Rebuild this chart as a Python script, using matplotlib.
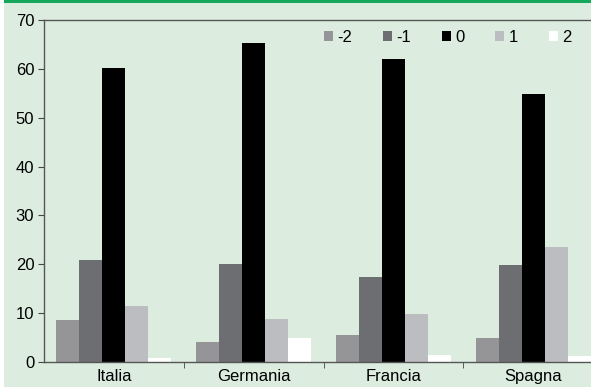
import matplotlib
matplotlib.use("Agg")
import matplotlib.pyplot as plt
from matplotlib.patches import Rectangle
import numpy as np

countries = ["Italia", "Germania", "Francia", "Spagna"]
series_labels = ["-2", "-1", "0", "1", "2"]
v_m2 = [8.6, 4.1, 5.5, 5.0]
v_m1 = [20.9, 20.0, 17.4, 19.9]
v_0 = [60.1, 65.2, 62.1, 54.9]
v_p1 = [11.5, 8.8, 9.9, 23.6]
v_p2 = [0.8, 4.9, 1.5, 1.2]
yticks = [0, 10, 20, 30, 40, 50, 60, 70]

series = [v_m2, v_m1, v_0, v_p1, v_p2]
colors = ["#959598", "#6d6e71", "#000000", "#bcbdc0", "#ffffff"]

plt.rcParams["font.family"] = ["Liberation Sans", "DejaVu Sans"]

bg = "#dcede0"
W, H = 591, 387
fig = plt.figure(figsize=(W / 100, H / 100), dpi=100, facecolor=bg)

# white strip on the far left and green rule across the top
fig.patches.append(Rectangle((0, 0), 4 / W, 1, transform=fig.transFigure,
                             facecolor="white", edgecolor="none", zorder=0))
fig.patches.append(Rectangle((4 / W, 1 - 3 / H), 1, 3 / H, transform=fig.transFigure,
                             facecolor="#16a85a", edgecolor="none", zorder=1))

left, right, top, bottom = 44, 603, 20, 362
ax = fig.add_axes([left / W, (H - bottom) / H, (right - left) / W, (bottom - top) / H])
ax.set_facecolor(bg)

x = np.arange(len(countries))
w = 23 / 140
for k, (vals, c, lab) in enumerate(zip(series, colors, series_labels)):
    ax.bar(x + (k - 2) * w, vals, width=w, color=c, edgecolor="none", label=lab, zorder=2)

ax.set_xlim(-0.5, len(countries) - 0.5)
ax.set_ylim(0, 70)
ax.set_yticks(yticks)
ax.set_yticklabels([str(t) for t in yticks])
ax.set_xticks(x)
ax.set_xticklabels(countries)
ax.set_xticks(np.arange(0.5, len(countries) - 0.5, 1), minor=True)
ax.tick_params(axis="x", which="major", length=0, pad=5, labelsize=12)
ax.tick_params(axis="x", which="minor", length=4, direction="out", color="#444444")
ax.tick_params(axis="y", length=4, direction="out", color="#444444", labelsize=12, pad=3)

for s in ["left", "top", "bottom"]:
    ax.spines[s].set_color("#555555")
    ax.spines[s].set_linewidth(1.0)
ax.spines["right"].set_visible(False)

fig.legend(loc="upper right", bbox_to_anchor=(578 / W, 1 - 23 / H), ncol=5,
           frameon=False, handlelength=0.55, handleheight=0.55, handletextpad=0.25,
           columnspacing=1.85, fontsize=12, borderaxespad=0)

fig.savefig("out.png", dpi=100, facecolor=bg)
